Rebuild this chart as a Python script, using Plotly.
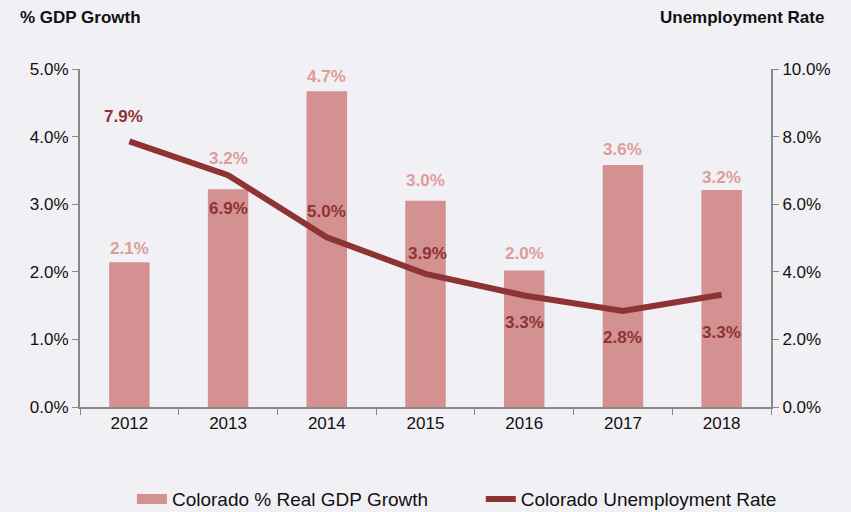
import plotly.graph_objects as go

years = ["2012", "2013", "2014", "2015", "2016", "2017", "2018"]
gdp_growth = [2.14, 3.22, 4.67, 3.05, 2.02, 3.58, 3.21]
unemployment = [7.86, 6.86, 5.02, 3.94, 3.30, 2.84, 3.32]
gdp_label_shift = [14, 31, 15, 20, 17, 15, 13]
unemp_label_shift = [25, -33, 26, 20, -27, -26, -38]
unemp_label_xshift = [-6, 0, 0, 2, 0, 0, 0]

bar_color = "#D49191"
bar_label_color = "#DE9C9C"
line_color = "#8E3333"
bg = "#F1F0F4"
font_family = "Liberation Sans, Arial, sans-serif"

fig = go.Figure()
fig.add_trace(go.Bar(
    x=years, y=gdp_growth, name="Colorado % Real GDP Growth",
    marker=dict(color=bar_color, line=dict(width=0)), width=0.41,
    yaxis="y", showlegend=False,
))
# legend proxy for the bars (wide swatch)
fig.add_trace(go.Scatter(
    x=[None], y=[None], mode="lines", name="Colorado % Real GDP Growth",
    line=dict(color=bar_color, width=13), yaxis="y", legend="legend",
))
fig.add_trace(go.Scatter(
    x=years, y=unemployment, name="Colorado Unemployment Rate",
    mode="lines", line=dict(color=line_color, width=6),
    cliponaxis=False, yaxis="y2", legend="legend2",
))

annotations = [
    dict(text="<b>% GDP Growth</b>", xref="paper", yref="paper", x=-0.0897, y=1.151,
         xanchor="left", yanchor="middle", showarrow=False,
         font=dict(size=17, family=font_family, color="#111")),
    dict(text="<b>Unemployment Rate</b>", xref="paper", yref="paper", x=1.0796, y=1.151,
         xanchor="right", yanchor="middle", showarrow=False,
         font=dict(size=17, family=font_family, color="#111")),
]
for i, (val, sh) in enumerate(zip(gdp_growth, gdp_label_shift)):
    annotations.append(dict(
        text="<b>%.1f%%</b>" % val, x=i, y=val, xref="x", yref="y",
        yshift=sh, showarrow=False, xanchor="center", yanchor="middle",
        font=dict(size=17, family=font_family, color=bar_label_color)))
for i, (val, sh, xs) in enumerate(zip(unemployment, unemp_label_shift, unemp_label_xshift)):
    annotations.append(dict(
        text="<b>%.1f%%</b>" % val, x=i, y=val, xref="x", yref="y2",
        yshift=sh, xshift=xs, showarrow=False, xanchor="center", yanchor="middle",
        font=dict(size=17, family=font_family, color=line_color)))

axis_common = dict(showgrid=False, zeroline=False, showline=True, linecolor="#8a8a8a",
                   linewidth=2, ticks="outside", tickcolor="#8a8a8a", ticklen=6,
                   tickfont=dict(size=17, color="#111", family=font_family))

legend_common = dict(orientation="h", xanchor="left", xref="container", yref="container",
                     y=0.025, yanchor="middle", font=dict(size=19, family=font_family),
                     bgcolor="rgba(0,0,0,0)")

fig.update_layout(
    width=851, height=512,
    margin=dict(l=80, r=80, t=69, b=105),
    paper_bgcolor=bg, plot_bgcolor=bg,
    font=dict(family=font_family, color="#111"),
    xaxis=dict(**axis_common, type="category", tickson="boundaries", range=[-0.5, 6.5]),
    yaxis=dict(**axis_common, range=[0, 5], dtick=1, tickformat=".1f", ticksuffix="%"),
    yaxis2=dict(**axis_common, range=[0, 10], dtick=2, tickformat=".1f", ticksuffix="%",
                overlaying="y", side="right"),
    legend=dict(**legend_common, x=0.155),
    legend2=dict(**legend_common, x=0.565),
    showlegend=True,
    annotations=annotations,
)

fig.write_html("out.html", config={"displayModeBar": False},
               post_script="document.body.style.margin='0';document.body.style.padding='0';")
